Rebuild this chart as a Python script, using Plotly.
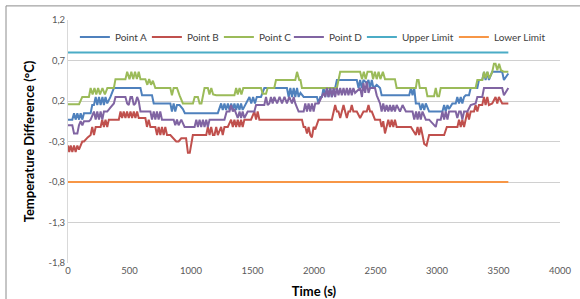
import plotly.graph_objects as go

# ---- data ----
a_t = [0,35,49,62,76,90,103,117,130,157,184,197,211,225,238,252,265,280,292,305,319,345,359,373,589,602,683,697,832,845,859,872,886,907,934,950,1218,1245,1258,1272,1285,1300,1313,1327,1340,1353,1367,1380,1394,1407,1420,1448,1475,1490,1505,1520,1535,1569,1596,1780,1794,1808,1821,1835,1848,1862,1875,1890,1916,2024,2037,2051,2064,2078,2091,2105,2118,2132,2145,2172,2186,2348,2362,2375,2388,2402,2429,2443,2456,2470,2483,2510,2537,2550,2774,2788,2801,2815,2828,2855,2868,2882,2896,2909,2936,3044,3058,3071,3085,3098,3125,3152,3165,3179,3193,3206,3220,3233,3260,3274,3328,3341,3368,3382,3395,3409,3422,3449,3476,3530,3544,3580]
a_v = [-0.03,-0.03,0.05,-0.03,0.05,-0.03,0.05,-0.03,0.05,0.05,0.05,0.15,0.15,0.25,0.15,0.25,0.15,0.25,0.15,0.25,0.17,0.25,0.30,0.36,0.36,0.27,0.27,0.17,0.17,0.07,0.17,0.07,0.15,0.15,0.10,0.05,0.05,0.17,0.09,0.17,0.09,0.17,0.09,0.17,0.09,0.17,0.09,0.17,0.09,0.17,0.09,0.17,0.25,0.17,0.25,0.17,0.25,0.25,0.36,0.36,0.25,0.36,0.25,0.36,0.25,0.36,0.25,0.30,0.25,0.25,0.17,0.25,0.25,0.36,0.25,0.36,0.25,0.36,0.25,0.36,0.46,0.46,0.36,0.46,0.36,0.46,0.42,0.46,0.36,0.46,0.36,0.40,0.36,0.27,0.27,0.36,0.27,0.36,0.17,0.17,0.09,0.17,0.09,0.17,0.07,0.07,0.15,0.07,0.15,0.10,0.17,0.17,0.25,0.17,0.25,0.17,0.25,0.27,0.27,0.36,0.36,0.46,0.46,0.56,0.46,0.56,0.46,0.56,0.56,0.56,0.46,0.54]

b_t = [0,10,22,35,49,62,76,89,116,130,160,184,197,211,225,265,278,292,305,319,332,413,427,440,453,467,480,494,508,521,535,548,562,575,629,642,656,670,710,724,737,751,764,778,791,805,832,860,880,899,921,960,975,990,1002,1015,1124,1137,1151,1164,1178,1191,1205,1218,1245,1258,1272,1299,1326,1340,1353,1367,1380,1394,1407,1420,1434,1488,1515,1529,1542,1556,1902,1916,1929,1943,1956,1970,1983,1997,2010,2024,2037,2145,2160,2172,2186,2199,2213,2226,2240,2253,2267,2280,2294,2307,2320,2348,2375,2402,2429,2443,2456,2470,2496,2537,2550,2563,2577,2590,2604,2618,2631,2645,2658,2672,2788,2828,2842,2855,2868,2882,2896,2915,2936,3058,3080,3166,3179,3193,3206,3220,3233,3247,3260,3274,3301,3314,3328,3341,3368,3382,3395,3409,3422,3449,3476,3490,3503,3530,3580]
b_v = [-0.35,-0.43,-0.35,-0.43,-0.35,-0.43,-0.35,-0.40,-0.30,-0.30,-0.25,-0.22,-0.12,-0.22,-0.12,-0.12,-0.03,-0.12,-0.03,-0.12,-0.03,-0.03,0.07,-0.01,0.07,-0.01,0.07,-0.01,0.07,-0.01,0.07,-0.01,0.07,-0.01,-0.01,-0.12,-0.03,-0.12,-0.12,-0.22,-0.12,-0.22,-0.12,-0.22,-0.12,-0.22,-0.22,-0.27,-0.30,-0.30,-0.26,-0.26,-0.44,-0.44,-0.32,-0.22,-0.22,-0.12,-0.22,-0.12,-0.22,-0.22,-0.12,-0.22,-0.12,-0.22,-0.12,-0.12,-0.03,-0.12,-0.03,-0.12,-0.03,-0.12,-0.03,-0.12,-0.03,-0.03,0.07,-0.03,0.07,-0.03,-0.03,-0.12,-0.12,-0.20,-0.12,-0.22,-0.25,-0.12,-0.15,-0.10,-0.03,-0.03,0.07,0.15,0.07,0.07,-0.01,0.07,0.15,0.07,-0.01,0.07,0.07,0.15,0.07,0.07,-0.01,0.07,0.07,0.15,0.07,0.07,-0.03,-0.03,-0.12,-0.05,-0.20,-0.12,-0.03,-0.12,-0.03,-0.12,-0.03,-0.12,-0.12,-0.22,-0.12,-0.22,-0.12,-0.22,-0.33,-0.35,-0.22,-0.22,-0.12,-0.12,-0.03,-0.12,-0.03,-0.12,-0.03,0.07,-0.03,0.07,0.07,0.15,0.07,0.15,0.15,0.25,0.15,0.25,0.15,0.17,0.25,0.17,0.25,0.17,0.17]

c_t = [0,90,116,170,184,200,215,230,245,260,280,300,320,373,386,467,481,500,515,530,545,560,575,589,629,645,660,675,690,710,832,845,859,886,907,934,1016,1030,1056,1070,1085,1110,1137,1150,1165,1180,1205,1353,1367,1380,1395,1410,1425,1569,1583,1610,1623,1677,1691,1848,1862,1880,1890,1902,2186,2199,2213,2375,2390,2405,2420,2435,2469,2480,2495,2510,2525,2540,2560,2577,2658,2672,2828,2838,2850,2860,2909,2922,2976,2990,3003,3017,3030,3314,3328,3368,3382,3395,3410,3425,3449,3463,3476,3490,3505,3520,3544,3580]
c_v = [0.16,0.16,0.25,0.25,0.36,0.28,0.36,0.28,0.36,0.28,0.36,0.28,0.36,0.36,0.47,0.47,0.56,0.47,0.56,0.47,0.56,0.47,0.56,0.47,0.47,0.40,0.47,0.40,0.45,0.36,0.36,0.27,0.36,0.36,0.27,0.17,0.17,0.25,0.25,0.17,0.17,0.36,0.36,0.28,0.36,0.28,0.27,0.27,0.36,0.28,0.36,0.28,0.36,0.36,0.29,0.29,0.36,0.36,0.46,0.46,0.56,0.46,0.46,0.36,0.36,0.46,0.56,0.56,0.47,0.56,0.47,0.56,0.56,0.47,0.56,0.47,0.56,0.47,0.56,0.47,0.47,0.36,0.36,0.46,0.46,0.36,0.36,0.26,0.26,0.36,0.26,0.26,0.36,0.36,0.46,0.46,0.56,0.48,0.56,0.48,0.56,0.66,0.66,0.58,0.66,0.58,0.56,0.56]

d_t = [0,35,49,76,89,103,117,130,170,184,211,225,238,252,265,279,292,319,346,373,386,467,481,494,508,521,535,548,562,575,589,670,683,697,710,723,737,750,764,859,872,886,899,921,948,1029,1043,1056,1070,1083,1097,1110,1124,1137,1151,1272,1290,1313,1326,1340,1353,1380,1395,1407,1420,1434,1461,1515,1529,1596,1610,1623,1637,1650,1664,1677,1700,1720,1740,1760,1780,1799,1821,1835,1848,1862,1875,1916,1929,1943,1956,1970,1983,1997,2010,2037,2064,2078,2091,2105,2118,2132,2145,2159,2172,2186,2199,2213,2226,2240,2253,2267,2280,2294,2307,2320,2334,2375,2390,2402,2416,2429,2443,2456,2496,2510,2537,2550,2563,2577,2590,2604,2618,2631,2645,2658,2672,2699,2720,2747,2801,2815,2830,2842,2855,2868,2882,2909,2936,2963,2990,3003,3030,3044,3058,3071,3085,3098,3152,3165,3180,3193,3206,3220,3247,3274,3314,3328,3368,3382,3530,3544,3580]
d_v = [-0.10,-0.10,-0.20,-0.20,-0.10,-0.05,-0.10,-0.05,-0.05,-0.03,0.07,-0.03,0.07,-0.03,0.07,-0.03,0.07,0.07,0.12,0.17,0.25,0.25,0.17,0.15,0.25,0.25,0.15,0.17,0.25,0.20,0.07,0.07,-0.03,0.07,-0.03,0.07,-0.03,0.07,-0.03,-0.03,-0.10,-0.03,-0.10,-0.03,-0.12,-0.12,-0.03,-0.12,-0.03,-0.12,-0.03,-0.12,-0.03,-0.12,-0.03,-0.03,0.07,0.07,0.15,0.07,0.10,-0.01,0.07,-0.01,0.07,-0.01,0.07,0.07,0.15,0.15,0.25,0.15,0.17,0.25,0.17,0.25,0.17,0.25,0.17,0.25,0.17,0.25,0.17,0.25,0.17,0.12,0.07,0.07,0.17,0.07,0.17,0.07,0.17,0.07,0.17,0.17,0.25,0.30,0.25,0.36,0.25,0.36,0.25,0.36,0.25,0.36,0.27,0.36,0.27,0.36,0.27,0.36,0.27,0.36,0.27,0.36,0.30,0.36,0.25,0.42,0.30,0.44,0.30,0.36,0.36,0.27,0.17,0.07,0.17,0.07,0.15,0.07,0.15,0.07,0.15,0.07,0.15,0.07,0.15,0.07,0.07,-0.03,0.07,-0.03,0.07,-0.03,0.07,-0.03,-0.03,-0.08,-0.12,-0.03,-0.03,0.07,-0.03,0.07,-0.03,0.07,0.07,-0.01,0.07,0.07,-0.03,0.07,0.07,0.15,0.17,0.25,0.25,0.36,0.36,0.27,0.36]

limit_t = [0, 3580]
upper_v = [0.8, 0.8]
lower_v = [-0.8, -0.8]

names = ["Point A", "Point B", "Point C", "Point D", "Upper Limit", "Lower Limit"]
colors = ["#4F81BD", "#C0504D", "#9BBB59", "#8064A2", "#4BACC6", "#F79646"]
series_t = [a_t, b_t, c_t, d_t, limit_t, limit_t]
series_v = [a_v, b_v, c_v, d_v, upper_v, lower_v]
legend_w = [27, 27, 25, 28, 47, 60]

y_ticks = [-1.8, -1.3, -0.8, -0.3, 0.2, 0.7, 1.2]
y_ticktext = ["-1,8", "-1,3", "-0,8", "-0,3", "0,2", "0,7", "1,2"]
x_ticks = [0, 500, 1000, 1500, 2000, 2500, 3000, 3500, 4000]

fig = go.Figure()
for n, c, t, v, lw in zip(names, colors, series_t, series_v, legend_w):
    fig.add_trace(go.Scatter(x=t, y=v, mode="lines", name=n, legendwidth=lw,
                             line=dict(color=c, width=2)))

FONT = "Lato, Carlito, Calibri, sans-serif"
fig.update_layout(
    width=580, height=299,
    margin=dict(l=68, r=20, t=20, b=36, autoexpand=False),
    paper_bgcolor="white", plot_bgcolor="white",
    font=dict(family=FONT, color="#595959", size=10),
    showlegend=True,
    legend=dict(orientation="h", x=0.014, xanchor="left", y=0.93, yanchor="middle",
                bgcolor="rgba(0,0,0,0)", font=dict(size=10, color="#404040"),
                itemwidth=30, tracegroupgap=0),
    xaxis=dict(range=[0, 4000], tickvals=x_ticks, showgrid=False, zeroline=False,
               showline=False, ticks="", automargin=False,
               tickfont=dict(size=9.5, color="#595959"),
               title=dict(text="<b>Time (s)</b>", font=dict(size=13, color="black"), standoff=12)),
    yaxis=dict(range=[-1.8, 1.2], tickvals=y_ticks, ticktext=y_ticktext, showgrid=True,
               gridcolor="#D0D0D0", gridwidth=1, zeroline=False, showline=True,
               linecolor="#D9D9D9", ticks="", automargin=False,
               tickfont=dict(size=9.5, color="#595959"),
               title=dict(text="<b>Temperature Difference (°C)</b>", font=dict(size=13, color="black"), standoff=10)),
    shapes=[dict(type="rect", xref="paper", yref="paper", x0=-0.126, x1=1.045, y0=-0.16, y1=1.058,
                 line=dict(color="#8C8C8C", width=1), fillcolor="rgba(0,0,0,0)", layer="below")],
)

fig.write_html("out.html", config={"displayModeBar": False},
               post_script="document.body.style.margin='0';")
